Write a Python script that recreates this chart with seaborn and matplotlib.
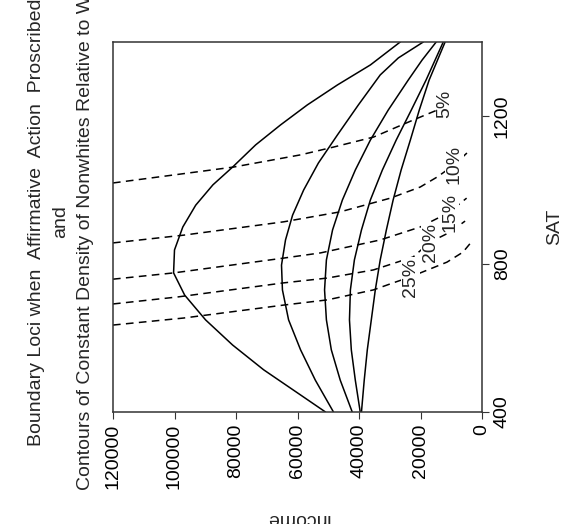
import matplotlib
matplotlib.use('Agg')
import matplotlib.pyplot as plt
import seaborn as sns
import pandas as pd

# boundary loci (solid): SAT vs income
sat1 = [400, 446, 514, 581, 649, 716, 776, 838, 900, 959, 1014, 1062, 1122, 1176, 1230, 1284, 1338, 1400]
inc1 = [50900, 59000, 71000, 81100, 89900, 96700, 100300, 100000, 97300, 93100, 87500, 81100,
        73600, 65500, 56800, 47000, 36300, 26600]

sat2 = [400, 486, 568, 649, 730, 797, 865, 932, 1000, 1073, 1149, 1230, 1311, 1357, 1400]
inc2 = [48300, 54200, 59000, 62900, 64900, 65200, 63900, 61600, 58000, 53200, 47000, 40200,
        33100, 27200, 19100]

sat3 = [400, 486, 568, 649, 730, 811, 892, 973, 1054, 1135, 1216, 1297, 1351, 1400]
inc3 = [42200, 46100, 49000, 50600, 51200, 50600, 48600, 45400, 41200, 36300, 30500, 24000,
        19500, 14900]

sat4 = [400, 486, 568, 649, 730, 811, 892, 973, 1054, 1135, 1216, 1297, 1400]
inc4 = [39600, 41200, 42500, 43100, 42800, 41500, 39200, 36300, 32400, 27900, 23000, 18200, 12600]

sat5 = [400, 486, 568, 649, 730, 811, 892, 973, 1054, 1135, 1216, 1297, 1400]
inc5 = [39200, 38300, 37300, 36000, 34700, 33100, 31100, 28900, 26300, 23300, 20400, 17200, 12000]

# contours of constant relative density (dashed)
d5_inc = [120000, 80800, 59000, 48300, 35300, 22400, 14600, 10400]
d5_sat = [1019, 1062, 1095, 1116, 1143, 1189, 1216, 1243]
d10_inc = [120000, 97000, 64500, 46100, 29800, 20100, 14600, 9000, 4900]
d10_sat = [857, 878, 914, 941, 978, 1008, 1035, 1068, 1100]
d15_inc = [120000, 100200, 64500, 52500, 33100, 20100, 11000, 5000]
d15_sat = [759, 776, 816, 830, 865, 900, 938, 978]
d20_inc = [120000, 98900, 64500, 50300, 35300, 22400, 16900, 10400, 5500]
d20_sat = [692, 711, 749, 762, 784, 819, 859, 886, 916]
d25_inc = [120000, 97000, 64500, 50300, 35300, 28900, 23300, 11400, 6200, 2900]
d25_sat = [635, 654, 689, 703, 730, 749, 765, 805, 832, 865]

contour_labels = ['5%', '10%', '15%', '20%', '25%']
label_inc = [12000, 9000, 10500, 16900, 23300]
label_sat = [1232, 1068, 940, 859, 765]

income_ticks = [0, 20000, 40000, 60000, 80000, 100000, 120000]
sat_ticks = [400, 800, 1200]

sns.set_style('ticks')
plt.rcParams['font.family'] = ['Liberation Sans', 'DejaVu Sans']
plt.rcParams['font.size'] = 14

fig = plt.figure(figsize=(5.67, 5.24), dpi=100)
ax = fig.add_axes([113 / 567, 1 - 412 / 524, 369 / 567, 370 / 524])

loci = [(sat1, inc1), (sat2, inc2), (sat3, inc3), (sat4, inc4), (sat5, inc5)]
for s, inc in loci:
    df = pd.DataFrame({'income': inc, 'sat': s})
    sns.lineplot(data=df, x='income', y='sat', sort=False, estimator=None,
                 color='black', linewidth=1.1, ax=ax)

dashed = [(d5_inc, d5_sat), (d10_inc, d10_sat), (d15_inc, d15_sat),
          (d20_inc, d20_sat), (d25_inc, d25_sat)]
for inc, s in dashed:
    df = pd.DataFrame({'income': inc, 'sat': s})
    sns.lineplot(data=df, x='income', y='sat', sort=False, estimator=None,
                 color='black', linewidth=1.1, ax=ax)
    ax.lines[-1].set_dashes((5, 3.5))

for lab, xi, yi in zip(contour_labels, label_inc, label_sat):
    ax.text(xi, yi, lab, rotation=90, ha='center', va='center', fontsize=14,
            bbox=dict(facecolor='white', edgecolor='none', pad=0.5))

ax.set_xlim(120000, 0)
ax.set_ylim(400, 1400)
ax.set_xticks(income_ticks)
ax.set_xticklabels([str(t) for t in income_ticks], rotation=90)
ax.set_yticks(sat_ticks)
ax.set_yticklabels([str(t) for t in sat_ticks], rotation=90, va='center')
ax.yaxis.tick_right()
ax.tick_params(direction='out', length=5, width=0.8, colors='#333333',
               labelcolor='black', labelsize=14)
ax.set_xlabel('')
ax.set_ylabel('')
for sp in ax.spines.values():
    sp.set_visible(True)
    sp.set_linewidth(1.1)
    sp.set_color('#333333')

# rotated title and axis labels (the figure is turned on its side)
fig.text(37 / 567, 1 - 222 / 524, 'Boundary Loci when  Affirmative  Action  Proscribed',
         rotation=90, ha='center', va='center', fontsize=14)
fig.text(61 / 567, 1 - 222 / 524, 'and', rotation=90, ha='center', va='center', fontsize=14)
fig.text(86 / 567, 1 - 222 / 524, 'Contours of Constant Density of Nonwhites Relative to Whites',
         rotation=90, ha='center', va='center', fontsize=14)
fig.text(297 / 567, 1 - 518 / 524, 'Income', rotation=180, ha='center', va='center', fontsize=14)
fig.text(555 / 567, 1 - 227 / 524, 'SAT', rotation=90, ha='center', va='center', fontsize=14)

fig.savefig('out.png', dpi=100)
